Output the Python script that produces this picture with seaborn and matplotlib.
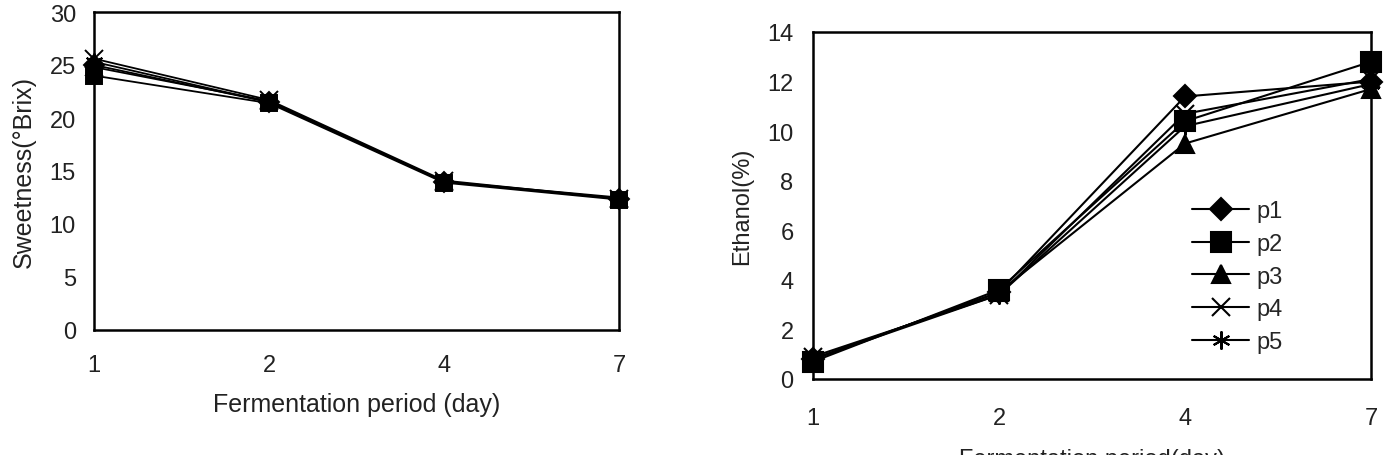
import pandas as pd
import seaborn as sns
import matplotlib.pyplot as plt

sns.set_theme(style='white')
plt.rcParams['font.family'] = ['Liberation Sans', 'DejaVu Sans']

days = ['1', '2', '4', '7']
series = ['p1', 'p2', 'p3', 'p4', 'p5']

# sweetness (°Brix)
sweet_p1 = [25.0, 21.5, 14.0, 12.4]
sweet_p2 = [24.0, 21.4, 13.9, 12.3]
sweet_p3 = [24.8, 21.6, 14.0, 12.5]
sweet_p4 = [25.6, 21.7, 14.1, 12.4]
sweet_p5 = [25.3, 21.5, 14.0, 12.4]

# ethanol (%)
eth_p1 = [0.8, 3.5, 11.4, 12.0]
eth_p2 = [0.7, 3.6, 10.4, 12.8]
eth_p3 = [0.8, 3.5, 9.5, 11.7]
eth_p4 = [0.9, 3.4, 10.7, 12.1]
eth_p5 = [0.8, 3.4, 10.2, 11.9]

sweet = [sweet_p1, sweet_p2, sweet_p3, sweet_p4, sweet_p5]
eth = [eth_p1, eth_p2, eth_p3, eth_p4, eth_p5]

rows = []
for name, s, e in zip(series, sweet, eth):
    for d, sv, ev in zip(days, s, e):
        rows.append({'Series': name, 'Day': d, 'Sweetness': sv, 'Ethanol': ev})
df = pd.DataFrame(rows)

markers = ['D', 's', '^', 'x', (6, 2, 0)]
ms_left = [10, 12, 12, 13, 13]
ms_right = [11.5, 14, 13, 13, 13]

fig = plt.figure(figsize=(13.95, 4.56), dpi=100)
ax1 = fig.add_axes([94 / 1395, 1 - 331 / 456, 525 / 1395, 318 / 456])
ax2 = fig.add_axes([813 / 1395, 1 - 380 / 456, 558 / 1395, 347 / 456])

for i, name in enumerate(series):
    sub = df[df['Series'] == name]
    sns.lineplot(data=sub, x='Day', y='Sweetness', color='black', marker=markers[i],
                 markersize=ms_left[i], markeredgecolor='black', markeredgewidth=1.4,
                 linewidth=1.3, ax=ax1, legend=False, clip_on=False)
    sns.lineplot(data=sub, x='Day', y='Ethanol', color='black', marker=markers[i],
                 markersize=ms_right[i], markeredgecolor='black', markeredgewidth=1.5,
                 linewidth=1.5, ax=ax2, label=name, clip_on=False)

ax1.set_xlim(0, 3)
ax1.set_ylim(0, 30)
ax1.set_yticks(range(0, 31, 5))
ax1.set_xlabel('Fermentation period (day)', fontsize=18, labelpad=12, color='#222222')
ax1.set_ylabel('Sweetness(°Brix)', fontsize=18, labelpad=10, color='#222222')
ax1.tick_params(direction='in', length=5, width=1.5, labelsize=17, pad=13, colors='#222222')
ax1.tick_params(axis='x', pad=17)

ax2.set_xlim(0, 3)
ax2.set_ylim(0, 14)
ax2.set_yticks(range(0, 15, 2))
ax2.set_xlabel('Fermentation period(day)', fontsize=17, labelpad=14, color='#222222')
ax2.set_ylabel('Ethanol(%)', fontsize=17, labelpad=10, color='#222222')
ax2.tick_params(direction='in', length=5, width=1.5, labelsize=17, pad=14, colors='#222222')
ax2.tick_params(axis='x', pad=20)

for ax in (ax1, ax2):
    for sp in ax.spines.values():
        sp.set_visible(True)
        sp.set_color('black')
        sp.set_linewidth(1.8)

ax2.legend(loc='center left', bbox_to_anchor=(0.68, 0.295), frameon=False, fontsize=17,
           handlelength=2.4, handletextpad=0.3, labelspacing=0.45, borderpad=0,
           borderaxespad=0)

fig.savefig('out.png', dpi=100)
